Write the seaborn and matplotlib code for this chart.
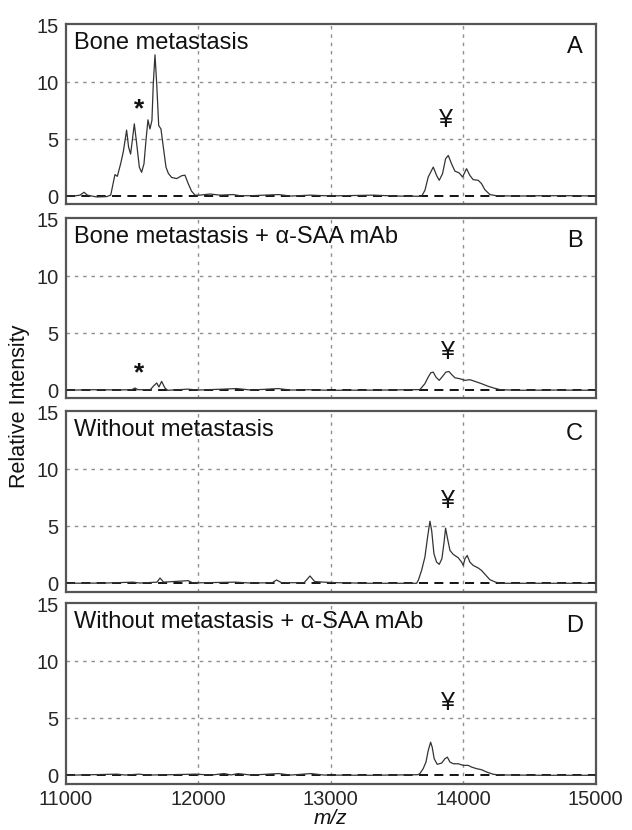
import matplotlib
matplotlib.use("Agg")
import matplotlib.pyplot as plt
import seaborn as sns
import pandas as pd

# ---------------- data ----------------
mz_A = [11000, 11080, 11109, 11140, 11165, 11235, 11310, 11341, 11373, 11391, 11416, 11436,
        11461, 11476, 11491, 11504, 11519, 11537, 11557, 11574, 11592, 11607, 11622, 11637,
        11652, 11662, 11675, 11688, 11703, 11720, 11738, 11758, 11776, 11801, 11839, 11876,
        11901, 11926, 11951, 11977, 12014, 12090, 12165, 12266, 12316, 12400, 12607, 12700,
        12844, 13000, 13319, 13500, 13686, 13711, 13736, 13774, 13799, 13819, 13844, 13867,
        13887, 13912, 13937, 13970, 13995, 14025, 14050, 14075, 14113, 14138, 14163, 14201,
        14250, 14400, 14600, 14800, 15000]
int_A = [0.03, 0.05, 0.1, 0.35, 0.1, -0.06, -0.03, 0.1, 1.9, 1.75, 2.85, 3.9,
         5.8, 4.3, 3.7, 4.9, 6.35, 4.6, 2.55, 2.1, 2.85, 4.9, 6.7, 5.9,
         6.65, 9.85, 12.4, 9.85, 6.2, 5.9, 4.3, 2.55, 2.0, 1.65, 1.55, 1.8,
         1.85, 1.1, 0.45, 0.1, 0.1, 0.2, 0.1, 0.15, 0.05, 0.05, 0.15, 0.02,
         0.1, 0.03, 0.1, 0.02, 0.0, 0.52, 1.69, 2.56, 1.83, 1.40, 1.98, 3.29,
         3.58, 2.85, 2.21, 2.04, 1.69, 2.42, 1.83, 1.46, 1.40, 1.11, 0.58, 0.15,
         0.05, 0.02, 0.05, 0.05, 0.03]

mz_B = [11000, 11200, 11400, 11500, 11524, 11545, 11640, 11662, 11688, 11705, 11725, 11750,
        11770, 11924, 12000, 12188, 12291, 12400, 12603, 12700, 12829, 13000, 13400, 13673,
        13711, 13736, 13756, 13774, 13794, 13819, 13844, 13869, 13892, 13912, 13937, 13975,
        14013, 14050, 14088, 14138, 14188, 14239, 14277, 14400, 14700, 15000]
int_B = [0.0, 0.05, 0.03, 0.05, 0.2, 0.05, 0.05, 0.35, 0.64, 0.29, 0.78, 0.2,
         0.0, 0.1, 0.02, 0.1, 0.15, 0.02, 0.15, 0.02, 0.05, 0.0, 0.02, 0.06,
         0.58, 1.16, 1.54, 1.59, 1.16, 0.87, 1.22, 1.59, 1.65, 1.39, 1.10, 1.01,
         0.87, 0.93, 0.78, 0.58, 0.35, 0.17, 0.06, 0.0, 0.02, 0.0]

mz_C = [11000, 11300, 11509, 11560, 11690, 11713, 11740, 11926, 11960, 12278, 12400, 12560,
        12592, 12630, 12800, 12844, 12880, 12950, 13050, 13300, 13648, 13661, 13686, 13711,
        13731, 13749, 13762, 13779, 13799, 13819, 13839, 13854, 13867, 13882, 13900, 13925,
        13962, 13988, 14000, 14013, 14030, 14050, 14075, 14113, 14138, 14171, 14201, 14239,
        14277, 14600, 15000]
int_C = [0.0, 0.02, 0.1, 0.02, 0.1, 0.46, 0.1, 0.23, 0.03, 0.1, 0.02, 0.05,
         0.29, 0.05, 0.05, 0.64, 0.15, 0.1, 0.05, 0.0, 0.0, 0.26, 1.13, 2.3,
         4.04, 5.44, 4.62, 2.59, 1.86, 1.66, 2.15, 3.46, 4.83, 3.90, 2.88, 2.53,
         2.24, 1.86, 1.57, 2.15, 2.44, 1.86, 1.57, 1.34, 1.13, 0.70, 0.32, 0.12,
         0.0, 0.0, 0.0]

mz_D = [11000, 11389, 11450, 11555, 11620, 11785, 11980, 12100, 12196, 12250, 12301, 12400,
        12607, 12700, 12851, 12950, 13300, 13658, 13673, 13698, 13719, 13736, 13754, 13766,
        13781, 13804, 13837, 13862, 13880, 13900, 13925, 13962, 14000, 14037, 14063, 14101,
        14138, 14176, 14226, 14277, 14600, 15000]
int_D = [0.0, 0.1, 0.02, 0.1, 0.02, 0.05, 0.1, 0.02, 0.15, 0.03, 0.15, 0.02,
         0.15, 0.02, 0.15, 0.02, 0.0, 0.05, 0.15, 0.58, 1.16, 2.17, 2.9, 2.46,
         1.45, 0.96, 1.07, 1.45, 1.59, 1.16, 1.01, 1.01, 0.87, 0.87, 0.72, 0.58,
         0.49, 0.29, 0.09, 0.03, 0.0, 0.0]

panel_titles = ["Bone metastasis", "Bone metastasis + \u03b1-SAA mAb",
                "Without metastasis", "Without metastasis + \u03b1-SAA mAb"]
panel_letters = ["A", "B", "C", "D"]
star_pos = [(11557, 7.85), (11554, 1.68), None, None]
yen_pos = [(13867, 6.67), (13882, 3.33), (13882, 7.17), (13882, 6.37)]

x_ticks = [11000, 12000, 13000, 14000, 15000]
y_ticks = [0, 5, 10, 15]
y_label = "Relative Intensity"
x_label = "m/z"

# ---------------- figure ----------------
sns.set_style("white")
plt.rcParams["font.family"] = ["Liberation Sans", "DejaVu Sans"]

fig = plt.figure(figsize=(6.32, 8.30), dpi=100)
left, width = 65.5 / 632, 530.3 / 632
tops = [24, 218, 411, 603]
h_px = 180.5
axes = []
for t in tops:
    axes.append(fig.add_axes([left, 1 - (t + h_px) / 830, width, h_px / 830]))

series = [(mz_A, int_A), (mz_B, int_B), (mz_C, int_C), (mz_D, int_D)]
for i, ax in enumerate(axes):
    mz, inten = series[i]
    df = pd.DataFrame({"mz": mz, "intensity": inten})
    # grid
    for gx in x_ticks[1:-1]:
        ax.axvline(gx, color="#8f8f8f", lw=1.0, ls=(0, (2.5, 3.5)), zorder=1)
    for gy in [5, 10]:
        ax.axhline(gy, color="#8f8f8f", lw=1.0, ls=(0, (2.5, 3.5)), zorder=1)
    ax.axhline(0, color="black", lw=1.3, ls=(0, (5, 3.5)), zorder=2)
    sns.lineplot(data=df, x="mz", y="intensity", ax=ax, color="#333333",
                 lw=0.9, estimator=None, sort=False, zorder=3)
    ax.set_xlim(11000, 15000)
    ax.set_ylim(-0.72, 15.1)
    ax.set_yticks(y_ticks)
    ax.set_xticks(x_ticks)
    ax.tick_params(length=0, labelsize=14.5, pad=5)
    ax.set_ylabel("")
    ax.set_xlabel("")
    if i < 3:
        ax.set_xticklabels([])
    for sp in ax.spines.values():
        sp.set_color("#555555")
        sp.set_linewidth(1.6)
    ax.text(0.016, 0.895, panel_titles[i], transform=ax.transAxes, fontsize=17,
            ha="left", va="center", color="#111111")
    ax.text(0.960, 0.875, panel_letters[i], transform=ax.transAxes, fontsize=17,
            ha="center", va="center", color="#111111")
    if star_pos[i] is not None:
        ax.text(star_pos[i][0], star_pos[i][1] - 0.2, "*", fontsize=19, fontweight="bold",
                ha="center", va="center", color="#111111")
    ax.text(yen_pos[i][0], yen_pos[i][1], "\u00a5", fontsize=18,
            ha="center", va="center", color="#111111")

fig.text(20 / 632, 1 - 406 / 830, y_label, rotation=90, fontsize=15.5,
         ha="center", va="center", color="#111111")
fig.text(left + width / 2, 1 - 818 / 830, x_label, fontsize=15, style="italic",
         ha="center", va="center", color="#111111")

fig.savefig("out.png", dpi=100)
